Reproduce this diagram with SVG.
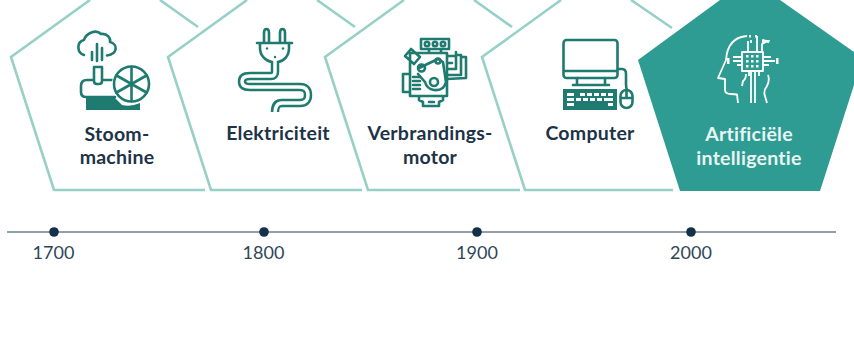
<svg xmlns="http://www.w3.org/2000/svg" width="854" height="362" viewBox="0 0 854 362">
<style>
.p{fill:none;stroke:#97d0c6;stroke-width:2.6}
.i{fill:none;stroke:#1f7a70;stroke-width:2.6;stroke-linecap:round;stroke-linejoin:round}
.w{fill:none;stroke:#fff;stroke-width:1.8;stroke-linejoin:round}
.f{fill:#1f7a70}
.ff{fill:#fff}
text{font-family:Lato,"Open Sans",sans-serif}
.t{font-size:19.500px;font-weight:700;fill:#1c3348;text-anchor:middle;letter-spacing:.25px}
.tw{font-size:19.500px;font-weight:700;fill:#e8f5f2;text-anchor:middle;letter-spacing:.25px}
.y{font-size:18px;fill:#2f4658;text-anchor:middle}
</style>
<rect width="854" height="362" fill="#fff"/>
<g id="stoommachine">
<path class="p" d="M90 0L11 57L54 190H205M160 0L198 27"/>
<path class="i" d="M84 55C77 53 76 42 84 40C86 33 96 29 101 34C107 33 111 38 110 42C118 44 118 54 107 55.500"/>
<path class="i" d="M92 52V60M97 44V61M102 48V60"/>
<path class="i" d="M94 67V81Q94 84 97 84H99Q102 84 102 81V67ZM93 80H87Q81 80 81 86V92Q81 97 86 97H115M102 80H114"/>
<path class="f" d="M86 97H114L122 105Q131 107 140 103V110H86Z"/>
<circle cx="131.500" cy="84" r="18" fill="#fff" stroke="#fff" stroke-width="3"/>
<circle class="i" cx="131.500" cy="84" r="17.500"/>
<path class="i" d="M131.500 67V101M116.500 75.500L146.500 92.500M116.500 92.500L146.500 75.500"/>
<text class="t" x="117" y="141">Stoom-</text>
<text class="t" x="117" y="164">machine</text>
</g>
<g id="elektriciteit">
<path class="p" d="M247 0L168 57L211 190H362M317 0L355 27"/>
<path class="i" d="M264 43V33Q264 29 266.500 29Q269 29 269 33V43M280 43V33Q280 29 282.500 29Q285 29 285 33V43M257 43H292M260 44V48C260 56 266 61 272 62H278C284 61 289 56 289 48V44"/>
<circle class="f" cx="267" cy="48.500" r="1.200"/><circle class="f" cx="283" cy="48.500" r="1.200"/><circle class="f" cx="275" cy="57" r="1.200"/>
<path d="M275 62V72Q275 76 271 76H250Q242 76 242 81.500Q242 87 250 87H300Q308 87 308 95Q308 103 300 103H282Q275 103 275 112" fill="none" stroke="#1f7a70" stroke-width="8.500"/>
<path d="M275 60V72Q275 76 271 76H250Q242 76 242 81.500Q242 87 250 87H300Q308 87 308 95Q308 103 300 103H282Q275 103 275 114" fill="none" stroke="#fff" stroke-width="3.500"/>
<text class="t" x="278" y="140">Elektriciteit</text>
</g>
<g id="verbrandingsmotor">
<path class="p" d="M404 0L325 57L368 190H520M474 0L512 27"/>
<rect class="i" x="421" y="39" width="28" height="10"/>
<circle class="i" cx="427" cy="44" r="2.200" stroke-width="1.500"/><circle class="i" cx="435" cy="44" r="2.200" stroke-width="1.500"/><circle class="i" cx="443" cy="44" r="2.200" stroke-width="1.500"/>
<path class="i" d="M429 49V53M441 49V53M410 53H447V96H410ZM410 74H403V92H410M405 56L414 64L420 57L411 49ZM447 56H456V69H447M447 63H452M456 55V52M456 55H461V75H447M461 57H466V78L447 79M419 96V100L423 102V106H439V102L443 100V96"/>
<path class="i" d="M419 68L438 59L443 62L446 82Q444 91 434 90Q427 89 425 82L418 74"/>
<circle class="i" cx="421.500" cy="68" r="3.500" fill="#fff"/><circle class="i" cx="438" cy="61" r="2.500" fill="#fff"/><circle class="i" cx="434" cy="82" r="4"/>
<path class="i" stroke-width="1.800" d="M413 77H420M413 81H420M413 85H420M413 89H420M429 102H434"/>
<text class="t" x="430" y="140">Verbrandings-</text>
<text class="t" x="430" y="164">motor</text>
</g>
<g id="computer">
<path class="p" d="M561 0L482 57L525 190H673M631 0L672 28"/>
<rect class="i" x="563.500" y="40" width="54" height="38" rx="3"/>
<path class="i" d="M564 71H617M577 78V85M605 78V85M573 85H609M618 69H622Q626 69 626 74V84Q626 87 627 91"/>
<rect class="f" x="563" y="89" width="54" height="21"/>
<path class="ff" d="M567 93H574V96H567ZM580 93H585V96H580ZM587 93H592V96H587ZM594 93H599V96H594ZM601 93H606V96H601ZM608 93H613V96H608ZM567 98H574V101H567ZM576 98H581V101H576ZM583 98H588V101H583ZM590 98H595V101H590ZM597 98H602V101H597ZM604 98H613V101H604ZM567 103H574V106H567ZM608 103H613V106H608Z"/>
<rect class="i" x="620.500" y="90" width="12" height="18" rx="6"/>
<path class="i" d="M626.500 91V98M621 98H632" stroke-width="1.600"/>
<text class="t" x="590" y="140">Computer</text>
</g>
<g id="artificiele-intelligentie">
<path d="M720 0L638 60L680 191H820L854 85V52L780 0Z" fill="#2e9c92"/>
<path class="w" d="M747 36C733 37 727 46 726 60L718 78L725 79V90Q725 94 731 94L737 94.500L738 103M768 75Q770 80 767 86Q763 91 765 96L767 103M746 74Q746 79 743 81L742 86M757 43V36M751 43V40M763 43V40Q764 41 769 41L768 42H769M764 43V42"/>
<rect class="w" x="742" y="52" width="21" height="19" stroke-width="2"/>
<path class="ff" d="M746 55h2.500v2.500h-2.500zM751 55h2.500v2.500h-2.500zM756 55h2.500v2.500h-2.500zM746 60h2.500v2.500h-2.500zM751 60h2.500v2.500h-2.500zM756 60h2.500v2.500h-2.500zM746 65h2.500v2.500h-2.500zM751 65h2.500v2.500h-2.500zM756 65h2.500v2.500h-2.500zM749 35h2v2.500h-2zM755 35h2v2.500h-2zM727 58h2.500v6h-2.500zM776 58h2.500v6h-2.500z"/>
<path class="w" d="M748 52V41M757 52V41M762 52V44L768 41H769M742 57H733M742 61H733M742 65H737M763 57H771M763 61H775M763 65H769M749 71V76M751 71V100M751 97V103M755 71V103M755 71V98M759 71V76"/>
<text class="tw" x="749" y="141">Artificiële</text>
<text class="tw" x="749" y="165">intelligentie</text>
</g>
<g id="timeline">
<path d="M7 232H836" stroke="#71808b" stroke-width="1.400" fill="none"/>
<circle cx="54" cy="232" r="4.800" fill="#14304a"/>
<circle cx="264" cy="232" r="4.800" fill="#14304a"/>
<circle cx="477" cy="232" r="4.800" fill="#14304a"/>
<circle cx="691" cy="232" r="4.800" fill="#14304a"/>
<text class="y" x="53.500" y="259">1700</text>
<text class="y" x="263.500" y="259">1800</text>
<text class="y" x="477" y="259">1900</text>
<text class="y" x="691" y="259">2000</text>
</g>
</svg>
